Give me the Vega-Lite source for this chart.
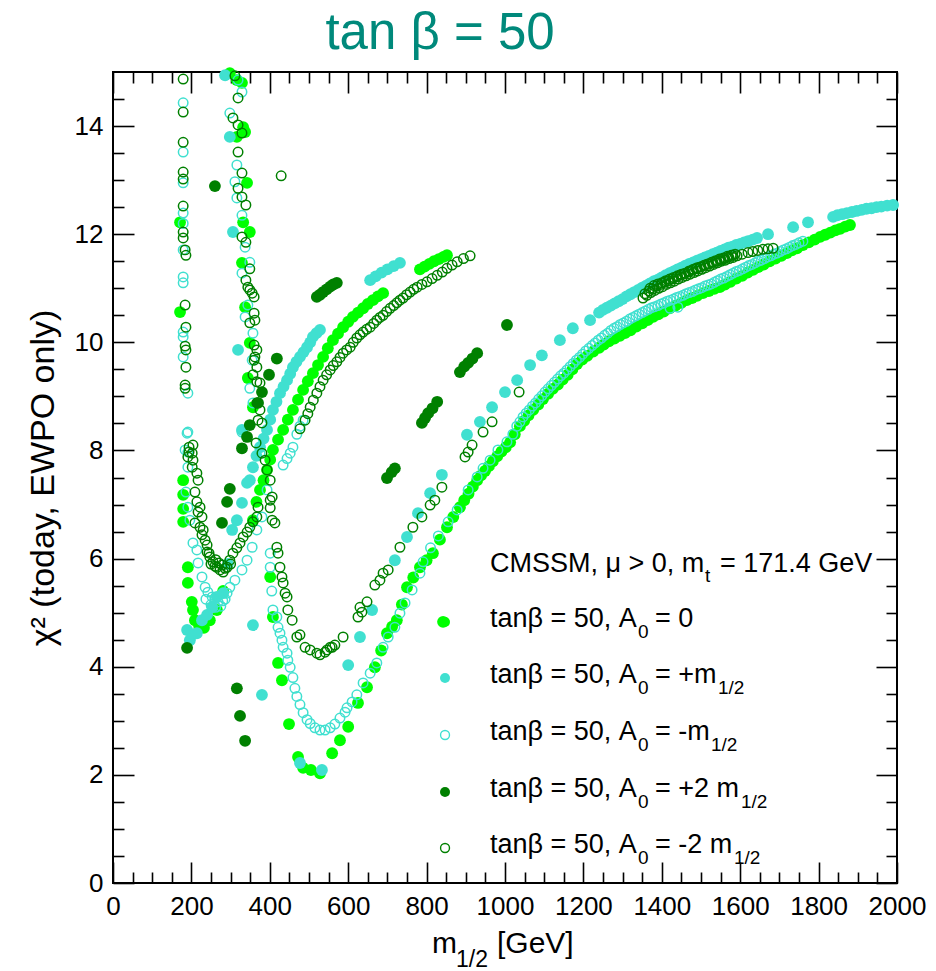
{
  "$schema": "https://vega.github.io/schema/vega-lite/v6.json",
  "width": 784,
  "height": 811,
  "autosize": {"type": "none"},
  "padding": {"left": 113, "top": 72, "right": 39, "bottom": 88},
  "background": "white",
  "title": {"text": "tan β = 50", "font": "Liberation Sans", "fontSize": 51, "fontWeight": "normal", "color": "#00897b", "anchor": "middle", "dx": -65, "offset": 7},
  "config": {
    "view": {"stroke": "black", "strokeWidth": 2},
    "axis": {"domain": false, "grid": false, "tickColor": "black", "tickWidth": 1.6, "labelFont": "Liberation Sans", "labelFontSize": 26, "labelColor": "black", "titleFont": "Liberation Sans", "titleFontWeight": "normal", "titleColor": "black"}
  },
  "datasets": {
    "a0": [
      {"x":171,"y":12.22},{"x":171,"y":10.56},{"x":179,"y":7.45},{"x":179,"y":7.18},{"x":179,"y":6.92},{"x":179,"y":6.68},{"x":191,"y":5.84},{"x":191,"y":5.55},{"x":201,"y":5.2},{"x":204,"y":5.05},{"x":209,"y":4.86},{"x":220,"y":4.75},{"x":232,"y":4.72},{"x":247,"y":4.86},{"x":265,"y":5.05},{"x":281,"y":5.4},
      {"x":357,"y":6.71},{"x":366,"y":7.05},{"x":375,"y":7.27},{"x":384,"y":7.45},{"x":393,"y":7.64},{"x":401,"y":7.83},{"x":408,"y":8.01},{"x":421,"y":8.2},{"x":434,"y":8.38},{"x":446,"y":8.57},{"x":459,"y":8.75},{"x":472,"y":8.94},{"x":485,"y":9.12},{"x":497,"y":9.28},{"x":510,"y":9.43},{"x":523,"y":9.58},{"x":536,"y":9.73},{"x":548,"y":9.89},{"x":561,"y":10.04},{"x":574,"y":10.16},{"x":587,"y":10.28},{"x":600,"y":10.38},{"x":612,"y":10.47},{"x":625,"y":10.55},{"x":638,"y":10.63},{"x":650,"y":10.71},{"x":663,"y":10.78},{"x":676,"y":10.85},{"x":689,"y":10.91},
      {"x":783,"y":11.35},{"x":795,"y":11.4},{"x":807,"y":11.45},{"x":819,"y":11.5},{"x":831,"y":11.54},{"x":843,"y":11.58},{"x":852,"y":11.61},
      {"x":298,"y":14.98},{"x":316,"y":14.85},{"x":329,"y":14.8},{"x":332,"y":13.98},{"x":316,"y":13.8},{"x":337,"y":13.89},{"x":342,"y":12.95},{"x":332,"y":12.22},{"x":349,"y":12.04},{"x":329,"y":11.47},{"x":337,"y":10.65},{"x":349,"y":9.99},{"x":344,"y":9.34},{"x":357,"y":8.8},
      {"x":401,"y":5.66},{"x":408,"y":4.92},{"x":421,"y":4.07},{"x":431,"y":3.75},{"x":449,"y":2.94},{"x":472,"y":2.33},{"x":485,"y":2.13},{"x":505,"y":2.09},{"x":528,"y":2.03},
      {"x":842,"y":4.83},
      {"x":559,"y":2.4},{"x":579,"y":2.64},{"x":600,"y":2.89},{"x":625,"y":3.33},{"x":648,"y":3.62},{"x":668,"y":3.99},{"x":684,"y":4.3},{"x":699,"y":4.62},{"x":712,"y":4.74},{"x":724,"y":4.86},{"x":737,"y":5.15},{"x":750,"y":5.47},{"x":766,"y":5.65},{"x":783,"y":5.84},{"x":800,"y":5.97},{"x":816,"y":6.1},{"x":834,"y":6.35},{"x":852,"y":6.58},{"x":868,"y":6.77},{"x":885,"y":6.95},{"x":896,"y":7.08},{"x":907,"y":7.2},{"x":918,"y":7.33},{"x":929,"y":7.45},{"x":939,"y":7.54},{"x":949,"y":7.62},{"x":959,"y":7.71},{"x":969,"y":7.8},{"x":980,"y":7.89},{"x":991,"y":7.98},{"x":1002,"y":8.06},{"x":1013,"y":8.15},{"x":1025,"y":8.3},{"x":1038,"y":8.45},{"x":1049,"y":8.55},{"x":1060,"y":8.65},{"x":1072,"y":8.75},{"x":1085,"y":8.85},{"x":1097,"y":8.95},{"x":1110,"y":9.05},{"x":1122,"y":9.14},{"x":1135,"y":9.22},{"x":1147,"y":9.31},{"x":1160,"y":9.4},{"x":1172,"y":9.5},{"x":1184,"y":9.6},{"x":1197,"y":9.68},{"x":1210,"y":9.75},{"x":1225,"y":9.83},{"x":1240,"y":9.9},{"x":1252,"y":9.96},{"x":1265,"y":10.02},{"x":1279,"y":10.07},{"x":1293,"y":10.12},{"x":1306,"y":10.17},{"x":1320,"y":10.22},{"x":1335,"y":10.29},{"x":1350,"y":10.35},{"x":1364,"y":10.41},{"x":1378,"y":10.47},{"x":1391,"y":10.52},{"x":1405,"y":10.57},{"x":1420,"y":10.63},{"x":1435,"y":10.68},{"x":1450,"y":10.73},{"x":1464,"y":10.78},{"x":1477,"y":10.82},{"x":1490,"y":10.86},{"x":1505,"y":10.91},{"x":1520,"y":10.95},{"x":1534,"y":10.99},{"x":1548,"y":11.02},{"x":1561,"y":11.07},{"x":1575,"y":11.12},{"x":1590,"y":11.18},{"x":1605,"y":11.23},{"x":1619,"y":11.29},{"x":1633,"y":11.34},{"x":1646,"y":11.39},{"x":1660,"y":11.44},{"x":1675,"y":11.5},{"x":1690,"y":11.55},{"x":1705,"y":11.6},{"x":1719,"y":11.65},{"x":1732,"y":11.7},{"x":1745,"y":11.74},{"x":1760,"y":11.8},{"x":1775,"y":11.85},{"x":1790,"y":11.9},{"x":1804,"y":11.95},{"x":1817,"y":11.99},{"x":1830,"y":12.03},{"x":1843,"y":12.07},{"x":1855,"y":12.1},{"x":1868,"y":12.14},{"x":1880,"y":12.17}
    ],
    "ap": [
      {"x":286,"y":14.94},{"x":298,"y":13.8},{"x":306,"y":12.04},{"x":319,"y":9.86},{"x":329,"y":8.38},
      {"x":189,"y":4.68},{"x":196,"y":4.49},{"x":204,"y":4.6},{"x":214,"y":4.62},{"x":227,"y":4.86},{"x":240,"y":4.96},{"x":253,"y":5.1},{"x":265,"y":5.29},{"x":281,"y":5.36},{"x":293,"y":5.9},{"x":304,"y":6.53},{"x":316,"y":6.71},{"x":329,"y":7.03},{"x":349,"y":7.45},
      {"x":342,"y":7.4},{"x":357,"y":7.69},{"x":366,"y":7.9},{"x":375,"y":8.06},{"x":384,"y":8.22},{"x":393,"y":8.38},{"x":401,"y":8.57},{"x":408,"y":8.75},{"x":417,"y":8.9},{"x":426,"y":9.06},{"x":435,"y":9.18},{"x":444,"y":9.3},{"x":452,"y":9.42},{"x":459,"y":9.54},{"x":468,"y":9.64},{"x":477,"y":9.73},{"x":486,"y":9.82},{"x":495,"y":9.91},{"x":503,"y":10.0},{"x":510,"y":10.1},{"x":519,"y":10.17},{"x":528,"y":10.23},
      {"x":656,"y":11.15},{"x":670,"y":11.22},{"x":685,"y":11.29},{"x":700,"y":11.35},{"x":716,"y":11.41},{"x":732,"y":11.47},
      {"x":357,"y":4.77},{"x":380,"y":3.48},{"x":477,"y":2.22},{"x":533,"y":2.09},
      {"x":600,"y":4.03},{"x":630,"y":4.55},{"x":661,"y":5.05},{"x":719,"y":5.97},{"x":750,"y":6.4},{"x":778,"y":6.84},{"x":809,"y":7.21},{"x":839,"y":7.55},{"x":903,"y":8.29},{"x":936,"y":8.53},{"x":967,"y":8.8},{"x":1000,"y":9.08},{"x":1031,"y":9.3},{"x":1064,"y":9.58},{"x":1094,"y":9.76},{"x":1140,"y":10.04},{"x":1173,"y":10.26},{"x":1217,"y":10.41},
      {"x":1240,"y":10.55},{"x":1250,"y":10.6},{"x":1260,"y":10.64},{"x":1270,"y":10.68},{"x":1280,"y":10.72},{"x":1290,"y":10.76},{"x":1300,"y":10.8},{"x":1310,"y":10.85},{"x":1320,"y":10.89},{"x":1330,"y":10.93},{"x":1340,"y":10.97},{"x":1350,"y":11.01},{"x":1360,"y":11.05},{"x":1370,"y":11.09},{"x":1380,"y":11.13},{"x":1390,"y":11.16},{"x":1400,"y":11.2},{"x":1410,"y":11.24},{"x":1420,"y":11.28},{"x":1430,"y":11.31},{"x":1440,"y":11.35},{"x":1450,"y":11.38},{"x":1460,"y":11.42},{"x":1470,"y":11.45},{"x":1480,"y":11.48},{"x":1490,"y":11.51},{"x":1500,"y":11.54},{"x":1510,"y":11.57},{"x":1520,"y":11.6},{"x":1530,"y":11.63},{"x":1540,"y":11.66},{"x":1550,"y":11.69},{"x":1560,"y":11.72},{"x":1570,"y":11.75},{"x":1580,"y":11.77},{"x":1590,"y":11.8},{"x":1600,"y":11.82},{"x":1610,"y":11.85},{"x":1620,"y":11.87},{"x":1632,"y":11.9},{"x":1643,"y":11.93},{"x":1671,"y":12.0},{"x":1735,"y":12.13},{"x":1773,"y":12.22},{"x":1837,"y":12.32},{"x":1848,"y":12.35},{"x":1860,"y":12.37},{"x":1872,"y":12.39},{"x":1885,"y":12.41},{"x":1897,"y":12.43},{"x":1910,"y":12.45},{"x":1922,"y":12.47},{"x":1935,"y":12.48},{"x":1948,"y":12.5},{"x":1960,"y":12.51},{"x":1975,"y":12.53},{"x":1990,"y":12.54}
    ],
    "am": [
      {"x":179,"y":14.43},{"x":179,"y":13.52},{"x":179,"y":12.95},{"x":179,"y":12.39},{"x":179,"y":12.2},{"x":179,"y":11.71},{"x":179,"y":11.21},{"x":179,"y":11.1},{"x":179,"y":10.19},{"x":179,"y":10.1},{"x":179,"y":9.73},{"x":191,"y":9.06},{"x":191,"y":8.34},{"x":184,"y":8.01},{"x":189,"y":8.32},{"x":191,"y":7.97},{"x":191,"y":7.69},{"x":186,"y":7.23},{"x":191,"y":6.95},{"x":196,"y":6.71},
      {"x":204,"y":6.29},{"x":214,"y":6.16},{"x":217,"y":5.92},{"x":227,"y":5.66},{"x":235,"y":5.47},{"x":242,"y":5.38},{"x":253,"y":5.29},{"x":260,"y":5.27},{"x":268,"y":5.2},{"x":280,"y":5.22},{"x":291,"y":5.36},{"x":298,"y":5.47},{"x":311,"y":5.6},{"x":329,"y":5.79},{"x":342,"y":5.97},{"x":355,"y":6.21},{"x":367,"y":6.53},{"x":380,"y":6.77},{"x":393,"y":7.27},{"x":237,"y":5.25},{"x":250,"y":5.15},{"x":262,"y":5.1},{"x":275,"y":5.12},{"x":286,"y":5.25},
      {"x":319,"y":14.85},{"x":329,"y":14.63},{"x":298,"y":14.24},{"x":316,"y":13.28},{"x":311,"y":12.97},{"x":316,"y":12.67},{"x":329,"y":12.35},{"x":337,"y":11.76},{"x":349,"y":11.48},{"x":329,"y":11.28},{"x":344,"y":10.69},{"x":337,"y":10.47},{"x":357,"y":10.17},{"x":355,"y":9.67},{"x":349,"y":9.15},{"x":357,"y":8.88},{"x":329,"y":8.34},{"x":375,"y":7.95},
      {"x":401,"y":6.1},{"x":401,"y":5.84},{"x":405,"y":5.4},{"x":408,"y":5.05},{"x":418,"y":4.92},{"x":421,"y":4.73},{"x":426,"y":4.62},{"x":431,"y":4.49},{"x":434,"y":4.36},{"x":444,"y":4.25},{"x":446,"y":4.12},{"x":452,"y":3.99},{"x":459,"y":3.8},{"x":464,"y":3.6},{"x":469,"y":3.45},{"x":477,"y":3.3},{"x":485,"y":3.15},{"x":495,"y":3.02},{"x":503,"y":2.95},{"x":515,"y":2.87},{"x":528,"y":2.83},{"x":541,"y":2.83},{"x":554,"y":2.87},{"x":566,"y":2.94},{"x":579,"y":3.05},{"x":592,"y":3.16},
      {"x":597,"y":3.24},{"x":610,"y":3.35},{"x":622,"y":3.48},{"x":638,"y":3.7},{"x":656,"y":3.88},{"x":673,"y":4.07},{"x":689,"y":4.36},{"x":702,"y":4.55},{"x":719,"y":4.73},{"x":732,"y":4.99},{"x":745,"y":5.18},{"x":763,"y":5.42},{"x":783,"y":5.73},{"x":791,"y":5.94},{"x":810,"y":6.2},{"x":830,"y":6.42},{"x":855,"y":6.68},{"x":878,"y":6.9},{"x":906,"y":7.27},{"x":929,"y":7.51},{"x":944,"y":7.67},{"x":962,"y":7.82},{"x":982,"y":8.01},{"x":1005,"y":8.16},{"x":1020,"y":8.3},
      {"x":1030,"y":8.45},{"x":1038,"y":8.53},{"x":1046,"y":8.62},{"x":1054,"y":8.69},{"x":1062,"y":8.75},{"x":1070,"y":8.82},{"x":1078,"y":8.88},{"x":1086,"y":8.95},{"x":1094,"y":9.01},{"x":1102,"y":9.08},{"x":1110,"y":9.14},{"x":1118,"y":9.2},{"x":1126,"y":9.26},{"x":1134,"y":9.32},{"x":1142,"y":9.38},{"x":1150,"y":9.43},{"x":1158,"y":9.49},{"x":1166,"y":9.55},{"x":1174,"y":9.61},{"x":1182,"y":9.67},{"x":1190,"y":9.72},{"x":1198,"y":9.78},{"x":1206,"y":9.84},{"x":1214,"y":9.89},{"x":1222,"y":9.94},{"x":1230,"y":9.99},{"x":1238,"y":10.04},{"x":1246,"y":10.08},{"x":1254,"y":10.13},{"x":1262,"y":10.17},{"x":1270,"y":10.22},{"x":1278,"y":10.26},{"x":1286,"y":10.29},{"x":1294,"y":10.33},{"x":1302,"y":10.36},{"x":1310,"y":10.39},{"x":1318,"y":10.43},{"x":1326,"y":10.46},{"x":1334,"y":10.49},{"x":1342,"y":10.52},{"x":1350,"y":10.55},{"x":1358,"y":10.58},{"x":1366,"y":10.61},{"x":1374,"y":10.64},{"x":1382,"y":10.66},{"x":1390,"y":10.68},{"x":1398,"y":10.71},{"x":1406,"y":10.73},{"x":1414,"y":10.76},{"x":1422,"y":10.78},{"x":1430,"y":10.8},{"x":1438,"y":10.83},{"x":1446,"y":10.85},{"x":1454,"y":10.87},{"x":1462,"y":10.9},{"x":1470,"y":10.92},{"x":1478,"y":10.94},{"x":1486,"y":10.97},{"x":1494,"y":10.99},{"x":1502,"y":11.01},{"x":1510,"y":11.04},{"x":1518,"y":11.06},{"x":1526,"y":11.08},{"x":1534,"y":11.11},{"x":1542,"y":11.14},{"x":1550,"y":11.17},{"x":1558,"y":11.19},{"x":1566,"y":11.22},{"x":1574,"y":11.25},{"x":1582,"y":11.28},{"x":1590,"y":11.31},{"x":1598,"y":11.33},{"x":1606,"y":11.36},{"x":1614,"y":11.39},{"x":1622,"y":11.42},{"x":1630,"y":11.44},{"x":1638,"y":11.47},{"x":1646,"y":11.5},{"x":1654,"y":11.52},{"x":1662,"y":11.55},{"x":1670,"y":11.58},{"x":1678,"y":11.6},{"x":1686,"y":11.63},{"x":1694,"y":11.65},{"x":1702,"y":11.68},{"x":1710,"y":11.71},{"x":1718,"y":11.73},{"x":1726,"y":11.76},{"x":1734,"y":11.79},{"x":1742,"y":11.81},{"x":1750,"y":11.84},{"x":1760,"y":11.87},
      {"x":1421,"y":10.63},{"x":1441,"y":10.65},
      {"x":434,"y":7.73},{"x":444,"y":7.85},{"x":452,"y":7.95},{"x":459,"y":8.06},{"x":469,"y":8.3},{"x":477,"y":8.45},{"x":485,"y":8.56}
    ],
    "a2p": [
      {"x":260,"y":12.89},{"x":418,"y":9.7},{"x":398,"y":9.4},{"x":380,"y":9.08},{"x":370,"y":8.88},{"x":349,"y":8.47},{"x":342,"y":8.25},{"x":329,"y":8.04},{"x":298,"y":7.29},{"x":291,"y":7.05},{"x":278,"y":6.66},{"x":189,"y":4.35},{"x":316,"y":3.6},{"x":324,"y":3.09},{"x":337,"y":2.63},
      {"x":520,"y":10.84},{"x":528,"y":10.88},{"x":536,"y":10.93},{"x":545,"y":10.98},{"x":554,"y":11.03},{"x":562,"y":11.07},{"x":571,"y":11.1},
      {"x":699,"y":7.49},{"x":711,"y":7.6},{"x":719,"y":7.67},{"x":788,"y":8.51},{"x":796,"y":8.6},{"x":804,"y":8.69},{"x":815,"y":8.78},{"x":827,"y":8.9},{"x":885,"y":9.45},{"x":896,"y":9.55},{"x":906,"y":9.62},{"x":917,"y":9.7},{"x":929,"y":9.8},{"x":1005,"y":10.32}
    ],
    "a2m": [
      {"x":179,"y":14.87},{"x":179,"y":14.26},{"x":179,"y":13.7},{"x":179,"y":13.15},{"x":179,"y":13.02},{"x":179,"y":12.52},{"x":179,"y":12.04},{"x":179,"y":11.93},{"x":184,"y":11.71},{"x":186,"y":11.61},{"x":184,"y":10.69},{"x":186,"y":10.28},{"x":184,"y":9.93},{"x":186,"y":9.86},{"x":186,"y":9.54},{"x":184,"y":9.21},{"x":184,"y":9.15},{"x":194,"y":8.06},{"x":194,"y":7.97},{"x":191,"y":7.88},
      {"x":204,"y":8.1},{"x":202,"y":7.95},{"x":204,"y":7.82},{"x":202,"y":7.69},{"x":214,"y":7.58},{"x":217,"y":7.45},{"x":209,"y":7.23},{"x":214,"y":7.05},{"x":222,"y":6.95},{"x":217,"y":6.86},{"x":227,"y":6.77},{"x":209,"y":6.66},{"x":222,"y":6.58},{"x":230,"y":6.53},{"x":227,"y":6.44},{"x":235,"y":6.34},{"x":240,"y":6.25},{"x":240,"y":6.12},{"x":247,"y":6.03},{"x":255,"y":5.94},{"x":265,"y":5.84},{"x":273,"y":5.79},{"x":281,"y":5.75},{"x":291,"y":5.84},{"x":298,"y":5.97},{"x":306,"y":6.1},{"x":316,"y":6.2},{"x":324,"y":6.29},{"x":332,"y":6.4},{"x":342,"y":6.49},{"x":349,"y":6.58},{"x":357,"y":6.68},{"x":367,"y":6.77},{"x":370,"y":6.95},{"x":250,"y":5.9},{"x":260,"y":5.86},{"x":270,"y":5.92},{"x":286,"y":5.82},{"x":262,"y":5.98},{"x":278,"y":5.88},{"x":245,"y":6.1},{"x":300,"y":5.9},
      {"x":311,"y":14.93},{"x":319,"y":14.52},{"x":306,"y":14.15},{"x":319,"y":14.02},{"x":329,"y":13.87},{"x":319,"y":13.52},{"x":329,"y":13.13},{"x":319,"y":12.85},{"x":329,"y":12.69},{"x":339,"y":12.54},{"x":329,"y":11.95},{"x":339,"y":11.85},{"x":349,"y":11.36},{"x":339,"y":11.15},{"x":349,"y":10.97},{"x":360,"y":10.84},{"x":360,"y":10.54},{"x":349,"y":10.36},{"x":360,"y":9.95},{"x":360,"y":9.67},{"x":367,"y":9.54},{"x":357,"y":9.4},{"x":367,"y":9.27},{"x":370,"y":8.56},{"x":365,"y":8.14},{"x":344,"y":11.02},{"x":355,"y":10.91},{"x":362,"y":10.41},{"x":367,"y":9.86},{"x":362,"y":9.73},{"x":375,"y":9.25},{"x":367,"y":8.88},{"x":375,"y":8.75},{"x":380,"y":8.51},{"x":380,"y":7.95},{"x":388,"y":7.82},{"x":393,"y":7.64},{"x":401,"y":7.45},{"x":406,"y":7.14},
      {"x":401,"y":7.08},{"x":401,"y":6.94},{"x":406,"y":6.71},{"x":413,"y":6.66},{"x":418,"y":6.21},{"x":421,"y":6.1},{"x":426,"y":5.84},{"x":431,"y":5.66},{"x":434,"y":5.55},{"x":439,"y":5.36},{"x":444,"y":5.29},{"x":446,"y":5.05},{"x":457,"y":4.86},{"x":469,"y":4.55},{"x":477,"y":4.59},{"x":490,"y":4.36},{"x":503,"y":4.31},{"x":520,"y":4.25},{"x":528,"y":4.22},{"x":541,"y":4.27},{"x":546,"y":4.31},{"x":554,"y":4.36},{"x":559,"y":4.36},{"x":566,"y":4.4},{"x":587,"y":4.55},{"x":625,"y":4.92},{"x":630,"y":5.1},{"x":635,"y":5.01},{"x":648,"y":5.2},{"x":668,"y":5.51},{"x":681,"y":5.6},{"x":689,"y":5.73},{"x":702,"y":5.79},{"x":732,"y":6.21},{"x":765,"y":6.58},{"x":788,"y":6.77},{"x":809,"y":6.99},{"x":821,"y":7.08},{"x":839,"y":7.32},{"x":898,"y":7.88},{"x":906,"y":7.97},{"x":916,"y":8.1},{"x":944,"y":8.34},{"x":967,"y":8.53},{"x":1036,"y":9.08},
      {"x":429,"y":13.08},
      {"x":477,"y":8.4},{"x":490,"y":8.56},{"x":497,"y":8.68},{"x":503,"y":8.8},{"x":511,"y":8.93},{"x":520,"y":9.06},{"x":528,"y":9.18},{"x":536,"y":9.3},{"x":545,"y":9.4},{"x":554,"y":9.49},{"x":562,"y":9.57},{"x":571,"y":9.64},{"x":579,"y":9.72},{"x":587,"y":9.8},{"x":596,"y":9.86},{"x":605,"y":9.91},{"x":613,"y":10.0},{"x":622,"y":10.08},{"x":630,"y":10.14},{"x":638,"y":10.19},{"x":647,"y":10.24},{"x":656,"y":10.28},{"x":665,"y":10.35},{"x":673,"y":10.41},{"x":681,"y":10.46},{"x":689,"y":10.5},{"x":698,"y":10.57},{"x":707,"y":10.63},{"x":716,"y":10.68},{"x":724,"y":10.73},{"x":732,"y":10.78},{"x":740,"y":10.82},{"x":749,"y":10.88},{"x":758,"y":10.93},{"x":767,"y":10.98},{"x":776,"y":11.02},{"x":788,"y":11.07},{"x":801,"y":11.12},{"x":814,"y":11.18},{"x":827,"y":11.24},{"x":840,"y":11.3},{"x":852,"y":11.37},{"x":865,"y":11.43},{"x":878,"y":11.49},{"x":894,"y":11.55},{"x":911,"y":11.6},
      {"x":1352,"y":10.82},{"x":1362,"y":10.87},{"x":1372,"y":10.92},{"x":1382,"y":10.96},{"x":1392,"y":11.0},{"x":1402,"y":11.03},{"x":1412,"y":11.07},{"x":1422,"y":11.1},{"x":1432,"y":11.13},{"x":1442,"y":11.17},{"x":1452,"y":11.2},{"x":1462,"y":11.23},{"x":1472,"y":11.26},{"x":1482,"y":11.29},{"x":1492,"y":11.32},{"x":1502,"y":11.35},{"x":1512,"y":11.38},{"x":1522,"y":11.41},{"x":1532,"y":11.44},{"x":1542,"y":11.47},{"x":1552,"y":11.5},{"x":1562,"y":11.52},{"x":1572,"y":11.55},{"x":1582,"y":11.57},{"x":1592,"y":11.6},{"x":1605,"y":11.63},{"x":1620,"y":11.66},{"x":1632,"y":11.68},{"x":1645,"y":11.7},{"x":1658,"y":11.72},{"x":1671,"y":11.73},{"x":1684,"y":11.74},
      {"x":1370,"y":11.0},{"x":1380,"y":11.05},{"x":1390,"y":11.08},{"x":1400,"y":11.1},{"x":1410,"y":11.14},{"x":1420,"y":11.17},{"x":1430,"y":11.2},{"x":1440,"y":11.23},{"x":1450,"y":11.26},{"x":1460,"y":11.28},{"x":1470,"y":11.32},{"x":1480,"y":11.35},{"x":1490,"y":11.38},{"x":1500,"y":11.4},{"x":1510,"y":11.43},{"x":1520,"y":11.45},{"x":1530,"y":11.48},{"x":1540,"y":11.5},{"x":1550,"y":11.53},{"x":1560,"y":11.55},{"x":1570,"y":11.58},{"x":1580,"y":11.61},
      {"x":1357,"y":10.9},{"x":1367,"y":10.95},{"x":1377,"y":10.99},{"x":1387,"y":11.04},{"x":1397,"y":11.07},{"x":1407,"y":11.11},{"x":1417,"y":11.14},{"x":1427,"y":11.17},{"x":1437,"y":11.21},{"x":1447,"y":11.24},{"x":1457,"y":11.27},{"x":1467,"y":11.3},{"x":1477,"y":11.33},{"x":1487,"y":11.36},{"x":1497,"y":11.39},{"x":1507,"y":11.42},{"x":1517,"y":11.45},{"x":1527,"y":11.48},{"x":1537,"y":11.51},{"x":1547,"y":11.54},{"x":1557,"y":11.56},{"x":1567,"y":11.59},{"x":1577,"y":11.61},{"x":1587,"y":11.63}
    ],
    "key": [
      {"s":"a","x":847,"y":4.827},{"s":"b","x":847,"y":3.791},{"s":"c","x":847,"y":2.737},{"s":"d","x":847,"y":1.683},{"s":"e","x":847,"y":0.647}
    ],
    "txt": [
      {"g":"k","x":961.7,"y":5.752,"t":"CMSSM, μ > 0, m"},{"g":"ks","x":1510.2,"y":5.567,"t":"t"},{"g":"k","x":1548.5,"y":5.752,"t":"= 171.4 GeV"},
      {"g":"k","x":961.7,"y":4.735,"t":"tanβ = 50, A"},{"g":"ks","x":1339.3,"y":4.531,"t":"0"},{"g":"k","x":1382.7,"y":4.735,"t":"= 0"},
      {"g":"k","x":961.7,"y":3.699,"t":"tanβ = 50, A"},{"g":"ks","x":1339.3,"y":3.495,"t":"0"},{"g":"k","x":1382.7,"y":3.699,"t":"= +m"},{"g":"ks","x":1543.4,"y":3.495,"t":"1/2"},
      {"g":"k","x":961.7,"y":2.645,"t":"tanβ = 50, A"},{"g":"ks","x":1339.3,"y":2.441,"t":"0"},{"g":"k","x":1382.7,"y":2.645,"t":"= -m"},{"g":"ks","x":1525.5,"y":2.441,"t":"1/2"},
      {"g":"k","x":961.7,"y":1.591,"t":"tanβ = 50, A"},{"g":"ks","x":1339.3,"y":1.387,"t":"0"},{"g":"k","x":1382.7,"y":1.591,"t":"= +2 m"},{"g":"ks","x":1602,"y":1.387,"t":"1/2"},
      {"g":"k","x":961.7,"y":0.555,"t":"tanβ = 50, A"},{"g":"ks","x":1339.3,"y":0.351,"t":"0"},{"g":"k","x":1382.7,"y":0.555,"t":"= -2 m"},{"g":"ks","x":1584.2,"y":0.351,"t":"1/2"},
      {"g":"x","x":813.8,"y":-1.295,"t":"m"},{"g":"xs","x":875,"y":-1.554,"t":"1/2"},{"g":"x","x":979.6,"y":-1.295,"t":"[GeV]"}
    ]
  },
  "layer": [
    {
      "data": {"name": "a0"},
      "mark": {"type": "point", "shape": "circle", "filled": true, "size": 140, "color": "#00ff00", "opacity": 1},
      "encoding": {
        "x": {"field": "x", "type": "quantitative", "scale": {"domain": [0, 2000], "nice": false, "zero": false},
              "axis": {"orient": "bottom", "values": [0,200,400,600,800,1000,1200,1400,1600,1800,2000], "format": "d", "ticks": false, "labelPadding": 10, "labelFlush": false, "labelOverlap": false, "title": null}},
        "y": {"field": "y", "type": "quantitative", "scale": {"domain": [0, 15], "nice": false, "zero": false},
              "axis": {"orient": "left", "values": [0,2,4,6,8,10,12,14], "ticks": false, "labelPadding": 10, "labelOverlap": false, "title": "χ² (today, EWPO only)", "titleFontSize": 34, "titlePadding": 14}}
      }
    },
    {
      "data": {"name": "ap"},
      "mark": {"type": "point", "shape": "circle", "filled": true, "size": 140, "color": "#40e0d0", "opacity": 1},
      "encoding": {
        "x": {"field": "x", "type": "quantitative", "scale": {"domain": [0, 2000], "nice": false, "zero": false},
              "axis": {"orient": "bottom", "values": [0,200,400,600,800,1000,1200,1400,1600,1800,2000], "labels": false, "tickSize": -21, "title": null}},
        "y": {"field": "y", "type": "quantitative", "scale": {"domain": [0, 15], "nice": false, "zero": false},
              "axis": {"orient": "left", "values": [0,2,4,6,8,10,12,14], "labels": false, "tickSize": -21, "title": null}}
      }
    },
    {
      "data": {"name": "am"},
      "mark": {"type": "point", "shape": "circle", "filled": false, "size": 90, "strokeWidth": 1.5, "color": "#40e0d0", "opacity": 1},
      "encoding": {
        "x": {"field": "x", "type": "quantitative", "scale": {"domain": [0, 2000], "nice": false, "zero": false},
              "axis": {"orient": "bottom", "values": [50,100,150,250,300,350,450,500,550,650,700,750,850,900,950,1050,1100,1150,1250,1300,1350,1450,1500,1550,1650,1700,1750,1850,1900,1950], "labels": false, "tickSize": -11, "title": null}},
        "y": {"field": "y", "type": "quantitative", "scale": {"domain": [0, 15], "nice": false, "zero": false},
              "axis": {"orient": "left", "values": [0.5,1,1.5,2.5,3,3.5,4.5,5,5.5,6.5,7,7.5,8.5,9,9.5,10.5,11,11.5,12.5,13,13.5,14.5], "labels": false, "tickSize": -11, "title": null}}
      }
    },
    {
      "data": {"name": "a2p"},
      "mark": {"type": "point", "shape": "circle", "filled": true, "size": 140, "color": "#008000", "opacity": 1},
      "encoding": {
        "x": {"field": "x", "type": "quantitative", "scale": {"domain": [0, 2000], "nice": false, "zero": false},
              "axis": {"orient": "top", "values": [0,200,400,600,800,1000,1200,1400,1600,1800,2000], "labels": false, "tickSize": -21, "title": null}},
        "y": {"field": "y", "type": "quantitative", "scale": {"domain": [0, 15], "nice": false, "zero": false},
              "axis": {"orient": "right", "values": [0,2,4,6,8,10,12,14], "labels": false, "tickSize": -21, "title": null}}
      }
    },
    {
      "data": {"name": "a2m"},
      "mark": {"type": "point", "shape": "circle", "filled": false, "size": 90, "strokeWidth": 1.5, "color": "#008000", "opacity": 1},
      "encoding": {
        "x": {"field": "x", "type": "quantitative", "scale": {"domain": [0, 2000], "nice": false, "zero": false},
              "axis": {"orient": "top", "values": [50,100,150,250,300,350,450,500,550,650,700,750,850,900,950,1050,1100,1150,1250,1300,1350,1450,1500,1550,1650,1700,1750,1850,1900,1950], "labels": false, "tickSize": -11, "title": null}},
        "y": {"field": "y", "type": "quantitative", "scale": {"domain": [0, 15], "nice": false, "zero": false},
              "axis": {"orient": "right", "values": [0.5,1,1.5,2.5,3,3.5,4.5,5,5.5,6.5,7,7.5,8.5,9,9.5,10.5,11,11.5,12.5,13,13.5,14.5], "labels": false, "tickSize": -11, "title": null}}
      }
    },
    {
      "data": {"name": "key"},
      "transform": [{"filter": "datum.s === 'a' || datum.s === 'b' || datum.s === 'd'"}],
      "mark": {"type": "point", "shape": "circle", "filled": true, "size": 100, "opacity": 1},
      "encoding": {
        "x": {"field": "x", "type": "quantitative", "scale": {"domain": [0, 2000], "nice": false, "zero": false}, "axis": null},
        "y": {"field": "y", "type": "quantitative", "scale": {"domain": [0, 15], "nice": false, "zero": false}, "axis": null},
        "color": {"field": "s", "type": "nominal", "scale": {"domain": ["a","b","c","d","e"], "range": ["#00ff00","#40e0d0","#40e0d0","#008000","#008000"]}, "legend": null}
      }
    },
    {
      "data": {"name": "key"},
      "transform": [{"filter": "datum.s === 'c' || datum.s === 'e'"}],
      "mark": {"type": "point", "shape": "circle", "filled": false, "size": 80, "strokeWidth": 1.4, "opacity": 1},
      "encoding": {
        "x": {"field": "x", "type": "quantitative", "scale": {"domain": [0, 2000], "nice": false, "zero": false}, "axis": null},
        "y": {"field": "y", "type": "quantitative", "scale": {"domain": [0, 15], "nice": false, "zero": false}, "axis": null},
        "color": {"field": "s", "type": "nominal", "scale": {"domain": ["a","b","c","d","e"], "range": ["#00ff00","#40e0d0","#40e0d0","#008000","#008000"]}, "legend": null}
      }
    },
    {
      "data": {"name": "txt"},
      "transform": [{"filter": "datum.g === 'k'"}],
      "mark": {"type": "text", "align": "left", "baseline": "alphabetic", "font": "Liberation Sans", "fontSize": 27, "color": "black"},
      "encoding": {
        "x": {"field": "x", "type": "quantitative", "scale": {"domain": [0, 2000], "nice": false, "zero": false}, "axis": null},
        "y": {"field": "y", "type": "quantitative", "scale": {"domain": [0, 15], "nice": false, "zero": false}, "axis": null},
        "text": {"field": "t"}
      }
    },
    {
      "data": {"name": "txt"},
      "transform": [{"filter": "datum.g === 'ks'"}],
      "mark": {"type": "text", "align": "left", "baseline": "alphabetic", "font": "Liberation Sans", "fontSize": 19, "color": "black"},
      "encoding": {
        "x": {"field": "x", "type": "quantitative", "scale": {"domain": [0, 2000], "nice": false, "zero": false}, "axis": null},
        "y": {"field": "y", "type": "quantitative", "scale": {"domain": [0, 15], "nice": false, "zero": false}, "axis": null},
        "text": {"field": "t"}
      }
    },
    {
      "data": {"name": "txt"},
      "transform": [{"filter": "datum.g === 'x'"}],
      "mark": {"type": "text", "align": "left", "baseline": "alphabetic", "font": "Liberation Sans", "fontSize": 30, "color": "black", "clip": false},
      "encoding": {
        "x": {"field": "x", "type": "quantitative", "scale": {"domain": [0, 2000], "nice": false, "zero": false}, "axis": null},
        "y": {"field": "y", "type": "quantitative", "scale": {"domain": [0, 15], "nice": false, "zero": false}, "axis": null},
        "text": {"field": "t"}
      }
    },
    {
      "data": {"name": "txt"},
      "transform": [{"filter": "datum.g === 'xs'"}],
      "mark": {"type": "text", "align": "left", "baseline": "alphabetic", "font": "Liberation Sans", "fontSize": 23, "color": "black", "clip": false},
      "encoding": {
        "x": {"field": "x", "type": "quantitative", "scale": {"domain": [0, 2000], "nice": false, "zero": false}, "axis": null},
        "y": {"field": "y", "type": "quantitative", "scale": {"domain": [0, 15], "nice": false, "zero": false}, "axis": null},
        "text": {"field": "t"}
      }
    }
  ],
  "resolve": {"axis": {"x": "independent", "y": "independent"}}
}
